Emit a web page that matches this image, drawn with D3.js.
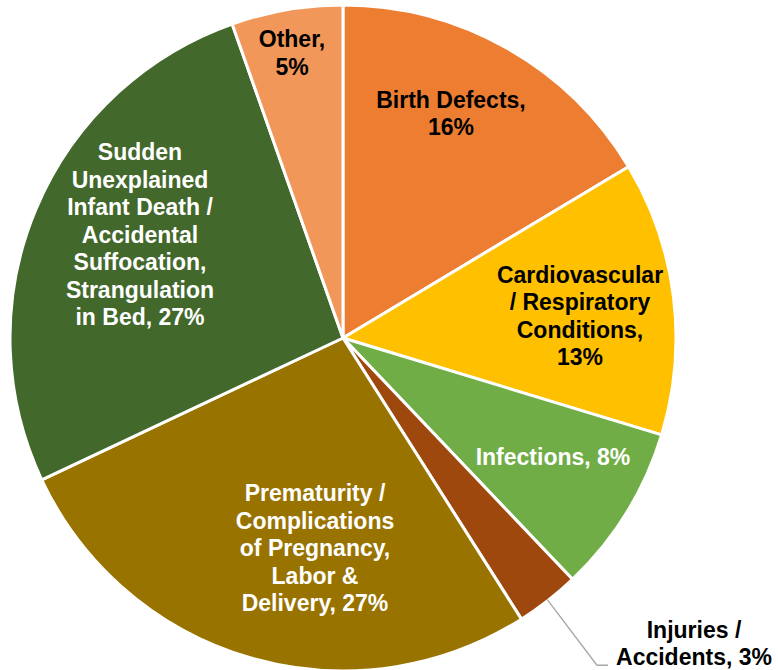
<!DOCTYPE html>
<html>
<head>
<meta charset="utf-8">
<script src="https://cdn.jsdelivr.net/npm/d3@7"></script>
<style>
  body { margin: 0; background: #fff; }
  text { font-family: "Liberation Sans", Arial, sans-serif; font-weight: bold; }
</style>
</head>
<body>
<div id="chart"></div>
<script>
// categories, values, label text
const categories = ["Birth Defects", "Cardiovascular / Respiratory Conditions", "Infections",
  "Injuries / Accidents", "Prematurity / Complications of Pregnancy, Labor & Delivery",
  "Sudden Unexplained Infant Death / Accidental Suffocation, Strangulation in Bed", "Other"];
const values = [16.4, 13.3, 8.2, 3.1, 27.0, 26.6, 5.4];
const labelLines = [
  ["Birth Defects,", "16%"],
  ["Cardiovascular", "/ Respiratory", "Conditions,", "13%"],
  ["Infections, 8%"],
  ["Injuries /", "Accidents, 3%"],
  ["Prematurity /", "Complications", "of Pregnancy,", "Labor &", "Delivery, 27%"],
  ["Sudden", "Unexplained", "Infant Death /", "Accidental", "Suffocation,", "Strangulation", "in Bed, 27%"],
  ["Other,", "5%"]
];

// styling / layout
const colors = ["#ED7D31", "#FFC000", "#70AD47", "#9E480E", "#997300", "#43682B", "#F1975A"];
const textColors = ["#000", "#000", "#fff", "#000", "#fff", "#fff", "#000"];
// label block centre, relative to pie centre
const labelOffset = [[108, -216.5], [237, -14], [210, 127], [351, 313.5], [-28, 218], [-203, -95.5], [-51, -277]];

const width = 778, height = 670;
const cx = 343, cy = 338, radius = 333;
const lineH = 27.5;

const svg = d3.select("#chart").append("svg")
  .attr("width", width)
  .attr("height", height);

const g = svg.append("g").attr("transform", `translate(${cx},${cy})`);

const pie = d3.pie().sort(null).value(d => d)(values);
const arc = d3.arc().innerRadius(0).outerRadius(radius);

g.selectAll("path.slice")
  .data(pie)
  .join("path")
  .attr("class", "slice")
  .attr("d", arc)
  .attr("fill", (d, i) => colors[i])
  .attr("stroke", "#fff")
  .attr("stroke-width", 3)
  .attr("stroke-linejoin", "round");

// leader line for the small injuries slice
const inj = pie[3];
const midA = (inj.startAngle + inj.endAngle) / 2;
const p0 = [Math.sin(midA) * (radius - 1), -Math.cos(midA) * (radius - 1)];
const lx = labelOffset[3][0], ly = labelOffset[3][1] + lineH / 2;
g.append("polyline")
  .attr("points", [p0, [lx - 97, ly], [lx - 86, ly]].map(p => p.join(",")).join(" "))
  .attr("fill", "none")
  .attr("stroke", "#a6a6a6")
  .attr("stroke-width", 1.3);

// labels
pie.forEach((d, i) => {
  const lines = labelLines[i];
  const [ox, oy] = labelOffset[i];
  const t = g.append("text")
    .attr("text-anchor", "middle")
    .attr("fill", textColors[i])
    .style("font-size", "23px");
  lines.forEach((s, k) => {
    t.append("tspan")
      .attr("x", ox)
      .attr("y", oy + (k - (lines.length - 1) / 2) * lineH)
      .text(s);
  });
});
</script>
</body>
</html>
